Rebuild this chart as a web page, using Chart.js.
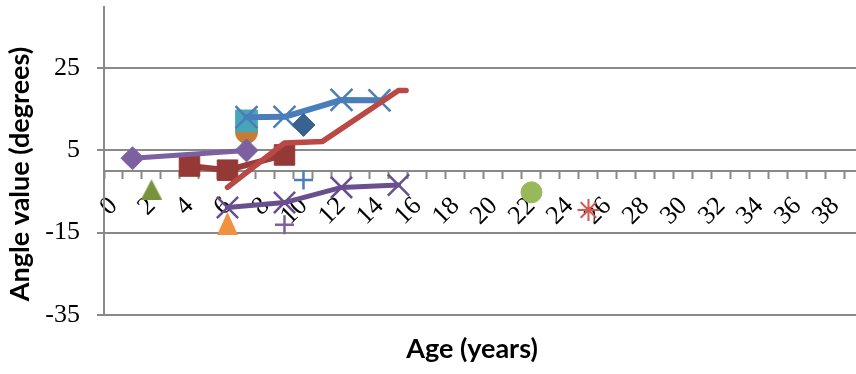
<!DOCTYPE html>
<html>
<head>
<meta charset="utf-8">
<script src="https://cdn.jsdelivr.net/npm/chart.js@4.4.1/dist/chart.umd.min.js"></script>
<style>
  html, body { margin: 0; padding: 0; background: #ffffff; overflow: hidden; }
  canvas { display: block; }
</style>
</head>
<body>
<canvas id="chart" width="856" height="374"></canvas>
<script>
// Axis labels
const ageTickLabels = [0, 2, 4, 6, 8, 10, 12, 14, 16, 18, 20, 22, 24, 26, 28, 30, 32, 34, 36, 38];
const angleTickValues = [-35, -15, 5, 25];
const xTitle = 'Age (years)';
const yTitle = 'Angle value (degrees)';

// Series: ages (years) and angle values (degrees)
const blueCrossAges = [7, 9, 12, 14];
const blueCrossAngles = [13.1, 13.2, 17.3, 17.2];

const purpleDiamondAges = [1, 7];
const purpleDiamondAngles = [3.1, 5.0];

const redSquareAges = [4, 6, 9];
const redSquareAngles = [1.2, 0.2, 3.9];

const redLineAges = [6, 9, 11, 15, 15.4];
const redLineAngles = [-4.0, 6.8, 7.2, 19.6, 19.6];

const purpleCrossAges = [6, 9, 12, 15];
const purpleCrossAngles = [-8.9, -7.7, -4.0, -3.4];

const tealSquareAges = [7];
const tealSquareAngles = [12.2];

const orangeCircleAges = [7];
const orangeCircleAngles = [9.4];

const navyDiamondAges = [10];
const navyDiamondAngles = [11.2];

const bluePlusAges = [10];
const bluePlusAngles = [-2.2];

const purplePlusAges = [9];
const purplePlusAngles = [-13.1];

const greenTriangleAges = [2];
const greenTriangleAngles = [-4.6];

const orangeTriangleAges = [6];
const orangeTriangleAngles = [-12.8];

const greenCircleAges = [22];
const greenCircleAngles = [-5.2];

const redStarAges = [25];
const redStarAngles = [-9.5];

function points(ages, angles) {
  return ages.map((a, i) => ({ x: a, y: angles[i] }));
}

// Triangle marker centred on its bounding box
function triangleMarker(color, w, h) {
  const c = document.createElement('canvas');
  c.width = w; c.height = h;
  const g = c.getContext('2d');
  g.fillStyle = color;
  g.beginPath();
  g.moveTo(w / 2, 0);
  g.lineTo(w, h);
  g.lineTo(0, h);
  g.closePath();
  g.fill();
  return c;
}

const AXIS_GREY = '#898989';
const TICK_FONT = { family: 'Liberation Serif', size: 26 };

function lineSeries(data, color, width, marker, order) {
  return Object.assign({
    data, showLine: true, borderColor: color, borderWidth: width,
    borderCapStyle: 'round', borderJoinStyle: 'round',
    pointRadius: 0, order
  }, marker || {});
}

function markerSeries(data, style, radius, fill, stroke, bw, order) {
  return {
    data, showLine: false, pointStyle: style, pointRadius: radius,
    pointBackgroundColor: fill, pointBorderColor: stroke, pointBorderWidth: bw, order
  };
}

const datasets = [
  lineSeries(points(redLineAges, redLineAngles), '#BA4844', 5.5, null, 2),
  lineSeries(points(blueCrossAges, blueCrossAngles), '#4A7EBB', 6,
    { pointStyle: 'crossRot', pointRadius: 15.5, pointBorderColor: '#4A7EBB', pointBorderWidth: 2.5 }, 3),
  markerSeries(points(navyDiamondAges, navyDiamondAngles), 'rectRot', 11.5, '#386391', '#386391', 1, 0),
  markerSeries(points(tealSquareAges, tealSquareAngles), 'rect', 15.3, '#46A6B6', '#46A6B6', 1, 4),
  lineSeries(points(purpleDiamondAges, purpleDiamondAngles), '#7D60A0', 5,
    { pointStyle: 'rectRot', pointRadius: 11.5, pointBackgroundColor: '#7D60A0', pointBorderColor: '#7D60A0', pointBorderWidth: 1 }, 5),
  markerSeries(points(orangeCircleAges, orangeCircleAngles), 'circle', 11, '#C77C36', '#C77C36', 1, 6),
  lineSeries(points(redSquareAges, redSquareAngles), '#9A3C38', 6,
    { pointStyle: 'rect', pointRadius: 14.5, pointBackgroundColor: '#953936', pointBorderColor: '#953936', pointBorderWidth: 1 }, 7),
  lineSeries(points(purpleCrossAges, purpleCrossAngles), '#6A4F8F', 5,
    { pointStyle: 'crossRot', pointRadius: 15, pointBorderColor: '#6A4F8F', pointBorderWidth: 2.5 }, 8),
  markerSeries(points(bluePlusAges, bluePlusAngles), 'cross', 9.5, '#4A7EBB', '#4A7EBB', 2.5, 9),
  markerSeries(points(purplePlusAges, purplePlusAngles), 'cross', 9.5, '#7D60A0', '#7D60A0', 2.5, 9),
  markerSeries(points(greenTriangleAges, greenTriangleAngles), triangleMarker('#77933C', 22, 21), 11, '#77933C', '#77933C', 1, 9),
  markerSeries(points(orangeTriangleAges, orangeTriangleAngles), triangleMarker('#F0913F', 21, 23), 11, '#F0913F', '#F0913F', 1, 9),
  markerSeries(points(greenCircleAges, greenCircleAngles), 'circle', 10.5, '#99B85A', '#99B85A', 1, 9),
  markerSeries(points(redStarAges, redStarAngles), 'star', 11, '#D6574F', '#D6574F', 2, 9)
];

// Axis titles drawn over the canvas
const axisTitles = {
  id: 'axisTitles',
  afterDraw(chart) {
    const ctx = chart.ctx;
    ctx.save();
    ctx.fillStyle = '#000000';
    ctx.font = 'bold 27px Lato';
    ctx.textAlign = 'center';
    ctx.textBaseline = 'alphabetic';
    ctx.fillText(xTitle, 472, 358);
    ctx.translate(29, 174);
    ctx.rotate(-Math.PI / 2);
    ctx.fillText(yTitle, 0, 0);
    ctx.restore();
  }
};

new Chart(document.getElementById('chart'), {
  type: 'scatter',
  data: { datasets },
  plugins: [axisTitles],
  options: {
    responsive: false,
    animation: false,
    devicePixelRatio: 1,
    layout: { autoPadding: false, padding: { top: 6.7, bottom: 59.3, left: 0, right: 0 } },
    plugins: { legend: { display: false }, tooltip: { enabled: false } },
    scales: {
      x: {
        type: 'linear',
        position: { y: 0 },
        min: -0.5,
        max: 39.08,
        afterBuildTicks: (s) => {
          const t = [];
          for (let v = -0.5; v <= 38.5; v += 0.5) t.push({ value: v });
          s.ticks = t;
        },
        afterFit: (s) => { s.paddingLeft = 0; s.paddingRight = 0; s.paddingTop = 0; s.paddingBottom = 0; },
        grid: {
          drawOnChartArea: false,
          drawTicks: true,
          tickLength: 7,
          tickWidth: 2,
          tickColor: (c) => (c.tick && Number.isInteger(c.tick.value)) ? 'rgba(0,0,0,0)' : AXIS_GREY
        },
        border: { color: AXIS_GREY, width: 2 },
        ticks: {
          autoSkip: false,
          minRotation: 45,
          maxRotation: 45,
          padding: 13,
          color: '#000000',
          font: TICK_FONT,
          callback: (v) => ageTickLabels.includes(v) ? String(v) : ''
        }
      },
      y: {
        type: 'linear',
        min: -35,
        max: 40,
        afterBuildTicks: (s) => { s.ticks = angleTickValues.map(v => ({ value: v })); },
        afterFit: (s) => { s.width = 104; s.paddingTop = 0; s.paddingBottom = 0; },
        grid: { color: AXIS_GREY, lineWidth: 2, drawTicks: true, tickLength: 7 },
        border: { color: AXIS_GREY, width: 2 },
        ticks: { padding: 17, color: '#000000', font: TICK_FONT }
      }
    }
  }
});
</script>
</body>
</html>
